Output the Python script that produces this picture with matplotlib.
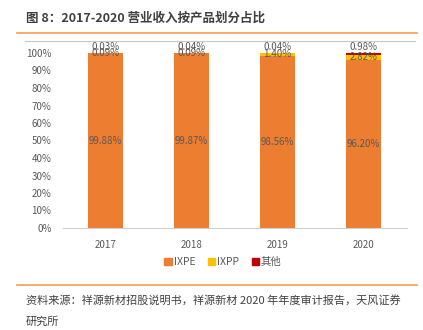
import matplotlib
matplotlib.use("Agg")
import matplotlib.pyplot as plt
from matplotlib.lines import Line2D
from matplotlib.patches import Patch
import numpy as np

plt.rcParams['font.family'] = ['Noto Sans CJK SC', 'DejaVu Sans']

years = ["2017", "2018", "2019", "2020"]
ixpe = [99.88, 99.87, 98.56, 96.20]
ixpp = [0.09, 0.09, 1.40, 2.82]
other = [0.03, 0.04, 0.04, 0.98]
yticks = [0, 10, 20, 30, 40, 50, 60, 70, 80, 90, 100]

c_ixpe = "#ED7D31"
c_ixpp = "#FFC000"
c_other = "#C00000"
txt = "#595959"

W, H = 423, 330
fig = plt.figure(figsize=(W / 100, H / 100), dpi=100)

# header
fig.text(26 / W, 1 - 18 / H, "图 8：2017-2020 营业收入按产品划分占比", fontsize=9,
         fontweight="bold", color="#404040", va="center", ha="left")
fig.add_artist(Line2D([17 / W, 417 / W], [1 - 33 / H, 1 - 33 / H], color="#F0A050", lw=1.2))
# chart frame top edge
fig.add_artist(Line2D([25 / W, 415 / W], [1 - 41 / H, 1 - 41 / H], color="#C8C8C8", lw=0.8))

ax = fig.add_axes([62.5 / W, 102 / H, 344 / W, 175 / H])
x = np.arange(len(years))
w = 0.41
ax.bar(x, ixpe, w, color=c_ixpe, label="IXPE")
ax.bar(x, ixpp, w, bottom=ixpe, color=c_ixpp, label="IXPP")
bottom2 = [a + b for a, b in zip(ixpe, ixpp)]
ax.bar(x, other, w, bottom=bottom2, color=c_other, label="其他")

for i in range(len(years)):
    ax.text(x[i], ixpe[i] / 2, f"{ixpe[i]:.2f}%", ha="center", va="center", fontsize=7, color=txt)
    ax.text(x[i], ixpe[i] + ixpp[i] / 2, f"{ixpp[i]:.2f}%", ha="center", va="center", fontsize=7, color=txt)
    ax.text(x[i], 100 + 3.5, f"{other[i]:.2f}%", ha="center", va="center", fontsize=7, color=txt)

ax.set_xlim(-0.5, len(years) - 0.5)
ax.set_ylim(0, 100)
ax.set_yticks(yticks)
ax.set_yticklabels([f"{v}%" for v in yticks])
ax.set_xticks(x)
ax.set_xticklabels(years)
ax.tick_params(axis="both", length=0, labelsize=7, labelcolor=txt)
ax.tick_params(axis="y", pad=8)
ax.tick_params(axis="x", pad=9)
for s in ["top", "right", "left"]:
    ax.spines[s].set_visible(False)
ax.spines["bottom"].set_color("#D0D0D0")
ax.spines["bottom"].set_linewidth(0.8)

handles = [Patch(color=c_ixpe), Patch(color=c_ixpp), Patch(color=c_other)]
fig.legend(handles, ["IXPE", "IXPP", "其他"], loc="center", bbox_to_anchor=(223 / W, 1 - 262 / H),
           ncol=3, frameon=False, fontsize=7.5, handlelength=0.7, handleheight=0.7,
           handletextpad=0.2, columnspacing=1.2, labelcolor=txt)

# footer
fig.add_artist(Line2D([17 / W, 417 / W], [1 - 285 / H, 1 - 285 / H], color="#F0A050", lw=1.2))
fig.text(26 / W, 1 - 300 / H, "资料来源：祥源新材招股说明书，祥源新材 2020 年年度审计报告，天风证券",
         fontsize=8, color="#404040", va="center", ha="left")
fig.text(26 / W, 1 - 322 / H, "研究所", fontsize=8, color="#404040", va="center", ha="left")

fig.savefig("out.png", dpi=100)
